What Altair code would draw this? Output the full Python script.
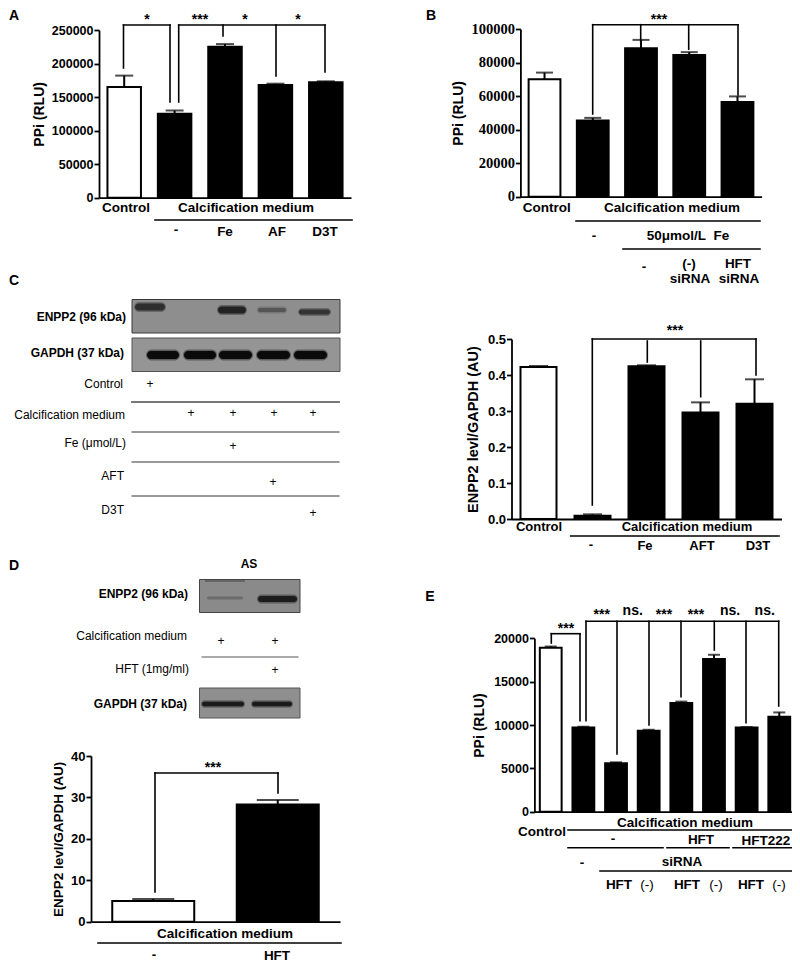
import altair as alt
import pandas as pd

SANS = "Liberation Sans"
SERIF = "Liberation Serif"

# ---- data ----
a_cats = ["Control", "Medium", "Fe", "AF", "D3T"]
a_vals = [165000, 125000, 225000, 168000, 172000]
a_errs = [17000, 5000, 4000, 2000, 1500]
a_ticks = [0, 50000, 100000, 150000, 200000, 250000]

b_cats = ["Control", "Medium", "Fe", "(-) siRNA", "HFT siRNA"]
b_vals = [70000, 45500, 88500, 84500, 56500]
b_errs = [4000, 1500, 5000, 1700, 3300]
b_ticks = [0, 20000, 40000, 60000, 80000, 100000]

c_cats = ["Control", "Medium", "Fe", "AFT", "D3T"]
c_vals = [0.422, 0.009, 0.424, 0.296, 0.320]
c_errs = [0.003, 0.004, 0.003, 0.028, 0.068]
c_ticks = [0.0, 0.1, 0.2, 0.3, 0.4, 0.5]

d_cats = ["Medium", "HFT"]
d_vals = [5.0, 28.3]
d_errs = [0.5, 1.1]
d_ticks = [0, 10, 20, 30, 40]

e_cats = ["Control", "Medium", "HFT siRNA", "(-) siRNA", "HFT+HFT siRNA",
          "HFT+(-) siRNA", "HFT222+HFT siRNA", "HFT222+(-) siRNA"]
e_vals = [18900, 9700, 5600, 9350, 12550, 17600, 9700, 10950]
e_errs = [150, 100, 100, 100, 150, 500, 60, 500]
e_ticks = [0, 5000, 10000, 15000, 20000]

M = 8  # page margin
W, H = 784, 955


def one():
    return alt.Chart(alt.Data(values=[{"k": 1}]))


def note(s, x, y, size=13.5, bold=True, align="center", angle=0, font=SANS, color="black"):
    kw = {"angle": angle} if angle else {}
    return one().mark_text(text=s, fontSize=size, fontWeight="bold" if bold else "normal",
                           align=align, baseline="middle", font=font, color=color, **kw).encode(
        x=alt.value(x - M), y=alt.value(y - M))


def line(x1, y1, x2, y2, w=1.6, color="black"):
    return one().mark_rule(strokeWidth=w, color=color, strokeCap="square").encode(
        x=alt.value(x1 - M), x2=alt.value(x2 - M), y=alt.value(y1 - M), y2=alt.value(y2 - M))


def box(x1, y1, x2, y2, fill, stroke=None, radius=0, opacity=1):
    kw = {"stroke": stroke, "strokeWidth": 1} if stroke else {}
    return one().mark_rect(fill=fill, cornerRadius=radius, opacity=opacity, **kw).encode(
        x=alt.value(x1 - M), x2=alt.value(x2 - M), y=alt.value(y1 - M), y2=alt.value(y2 - M))


def band(x1, x2, yc, h, color):
    return [box(x1, yc - h / 2 - 1.5, x2, yc + h / 2 + 1.5, color, radius=(h + 3) / 2, opacity=0.4),
            box(x1 + 1, yc - h / 2, x2 - 1, yc + h / 2, color, radius=h / 2)]


def panel(cats, vals, errs, ticks, ydom, xr, yr, bar_w, cap, title, title_x, fmt="d",
          lab_font=SANS, lab_size=12.5, title_size=14):
    x0, x1 = xr
    ybot, ytop = yr
    df = pd.DataFrame({"cat": cats, "val": vals, "err": errs})
    df["top"] = df["val"] + df["err"]
    df["kind"] = ["control" if c == "Control" or i == 0 else "treated" for i, c in enumerate(cats)]
    step = (x1 - x0) / len(cats)
    inner = 1 - (bar_w - 2) / step
    xs = alt.Scale(domain=cats, range=[x0 - M, x1 - M], paddingInner=inner, paddingOuter=inner / 2)
    ys = alt.Scale(domain=ydom, range=[ybot - M, ytop - M], nice=False, zero=True)
    xax = alt.Axis(orient="bottom", offset=-(H - (ybot - M)), labels=False, ticks=False, title=None,
                   domainColor="black", domainWidth=1.8, grid=False)
    yax = alt.Axis(orient="left", offset=-(x0 - M), values=ticks, format=fmt, title=title,
                   titleFont=SANS, titleFontSize=title_size, titleFontWeight="bold", titleColor="black",
                   titleX=title_x, labelFont=lab_font, labelFontSize=lab_size, labelFontWeight="bold",
                   labelColor="black", domainColor="black", domainWidth=1.8, tickColor="black",
                   tickWidth=1.8, tickSize=5, labelPadding=1, grid=False, labelOverlap=False)
    base = alt.Chart(df)
    bars = base.mark_bar(stroke="black", strokeWidth=2).encode(
        x=alt.X("cat:N", scale=xs, axis=xax, sort=cats),
        y=alt.Y("val:Q", scale=ys, axis=yax),
        color=alt.Color("kind:N", scale=alt.Scale(domain=["control", "treated"], range=["white", "black"]),
                        legend=None))
    errs_m = base.mark_rule(color="black", strokeWidth=2).encode(
        x=alt.X("cat:N", scale=xs, sort=cats), y=alt.Y("val:Q", scale=ys), y2="top:Q")
    caps = base.mark_tick(color="black", size=cap, thickness=2).encode(
        x=alt.X("cat:N", scale=xs, sort=cats), y=alt.Y("top:Q", scale=ys))
    return alt.layer(errs_m, caps, bars)


L = []  # annotations

# ---- Panel A ----
pa = panel(a_cats, a_vals, a_errs, a_ticks, [0, 250000], (99, 351), (197.7, 30), 35.5, 18, "PPi (RLU)", -53)
for s, x in [("*", 147), ("***", 200), ("*", 245), ("*", 298)]:
    L.append(note(s, x, 20, size=14))
L += [line(123.5, 68, 123.5, 25), line(123.5, 25, 170, 25), line(170, 25, 170, 102),
      line(178.7, 102, 178.7, 25), line(178.7, 25, 325, 25), line(325, 25, 325, 72),
      line(223, 25, 223, 36), line(276, 25, 276, 76)]
L += [note("A", 14, 16, size=14), note("Control", 126, 208), note("Calcification medium", 246, 208),
      line(155, 220, 352, 220), note("-", 176, 230), note("Fe", 225, 232), note("AF", 277, 232), note("D3T", 325, 232)]

# ---- Panel B ----
pb = panel(b_cats, b_vals, b_errs, b_ticks, [0, 100000], (520.4, 761.6), (196.7, 29), 33.8, 17, "PPi (RLU)", -55,
           lab_font=SERIF, lab_size=14.5)
L += [line(592.7, 114, 592.7, 24.7), line(592.7, 24.7, 738, 24.7), line(738, 24.7, 738, 95),
      line(640.7, 24.7, 640.7, 42.7), line(688.7, 24.7, 688.7, 49.3), note("***", 659, 20, size=14)]
L += [note("B", 431, 16, size=14), note("Control", 546.7, 208), note("Calcification medium", 672, 208),
      line(576, 221, 760, 221), note("-", 594, 236), note("50μmol/L\u00a0\u00a0Fe", 688, 236),
      line(623, 249, 760, 249), note("-", 644, 267), note("(-)", 689, 264), note("siRNA", 690, 279),
      note("HFT", 738, 264), note("siRNA", 739, 279)]

# ---- Panel C blot ----
L += [note("C", 14, 281, size=14), box(132, 299.5, 340, 333, "#8e8e8e", "#3a3a3a"), box(132, 338, 340, 371.5, "#959595", "#555555")]
L += band(134, 166, 307, 7, "#2e2e2e") + band(217, 247, 310, 7, "#222222") + band(257, 287, 310, 4, "#555555") + band(298, 331, 312, 5, "#333333")
for x1, x2 in [(146, 180), (183, 217), (218, 253), (256, 291), (293, 328)]:
    L += band(x1, x2, 355, 8, "#0a0a0a")
L += [note("ENPP2 (96 kDa)", 126, 317, size=12, align="right"), note("GAPDH (37 kDa)", 124, 353, size=12, align="right"),
      note("Control", 123, 384, size=12, bold=False, align="right"), note("+", 150, 384, size=12, bold=False),
      line(132, 402, 339, 402, w=1.8, color="#777777"),
      note("Calcification medium", 125, 415, size=12, bold=False, align="right"),
      line(132, 432, 339, 432, w=1, color="#333333"),
      note("Fe (μmol/L)", 126, 443, size=12, bold=False, align="right"),
      line(132, 462, 339, 462, w=1, color="#333333"),
      note("AFT", 124, 476, size=12, bold=False, align="right"),
      line(132, 496, 339, 496, w=1, color="#333333"),
      note("D3T", 124, 510, size=12, bold=False, align="right")]
for x, y in [(191, 413), (233, 413), (274, 413), (313, 413), (233, 446), (273, 482), (313, 513)]:
    L.append(note("+", x, y, size=12, bold=False))

# ---- Panel C chart ----
pc = panel(c_cats, c_vals, c_errs, c_ticks, [0, 0.5], (511.5, 781.5), (519, 339), 38, 19,
           "ENPP2 levl/GAPDH (AU)", -31, fmt=".1f", lab_size=13, title_size=14.5)
L += [line(592.3, 505, 592.3, 339), line(592.3, 339, 756, 339), line(756, 339, 756, 375),
      line(647.3, 341, 647.3, 362), line(700.7, 341, 700.7, 396.7), note("***", 675, 331, size=14)]
L += [note("Control", 539, 527, size=13), note("Calcification medium", 687, 527, size=13), line(570.7, 536, 779, 536),
      note("-", 591, 545, size=13), note("Fe", 645, 546, size=13), note("AFT", 702, 546, size=13), note("D3T", 758, 546, size=13)]

# ---- Panel D blots ----
L += [note("D", 14, 566, size=14), note("AS", 249, 564, size=12),
      box(199.5, 579.5, 300, 612.5, "#8a8a8a", "#444444"), box(199.5, 688, 300, 718, "#8f8f8f", "#555555")]
L += [box(205, 580, 245, 582, "#555555", opacity=0.7), box(207, 596.5, 243, 599.5, "#6c6c6c", radius=1.5)]
L += band(257, 298, 599, 6, "#1c1c1c") + band(201, 245, 704, 4.5, "#1a1a1a") + band(251, 293, 704, 4.5, "#1a1a1a")
L += [note("ENPP2 (96 kDa)", 188, 594, size=12, align="right"),
      note("Calcification medium", 187, 636, size=12, bold=False, align="right"),
      note("+", 221, 641, size=12, bold=False), note("+", 275, 641, size=12, bold=False),
      line(202, 657, 298, 657, w=1, color="#555555"),
      note("HFT (1mg/ml)", 189, 669, size=12, bold=False, align="right"), note("+", 275, 670, size=12, bold=False),
      note("GAPDH (37 kDa)", 187, 704, size=12, align="right")]

# ---- Panel D chart ----
pd_ = panel(d_cats, d_vals, d_errs, d_ticks, [0, 40], (91, 340), (921.7, 756), 84, 42,
            "ENPP2 levl/GAPDH (AU)", -26, lab_size=13, title_size=13.5)
L += [line(155, 892, 155, 773), line(155, 773, 278, 773), line(278, 773, 278, 793), note("***", 213, 768, size=14)]
L += [note("Calcification medium", 225, 934), line(98, 943, 341, 943), note("-", 154, 955), note("HFT", 277, 956)]

# ---- Panel E ----
pe = panel(e_cats, e_vals, e_errs, e_ticks, [0, 20000], (534.4, 795.6), (811.7, 638.3), 23.8, 12, "PPi (RLU)", -48)
L += [line(551.3, 643, 551.3, 633.7), line(551.3, 633.7, 580, 633.7), line(580, 633.7, 580, 720.7),
      line(586, 720.7, 586, 621.3), line(586, 621.3, 778.7, 621.3), line(778.7, 621.3, 778.7, 706)]
for x, yb in [(617, 754), (649, 725), (681, 696.7), (714.3, 650), (746, 722.7)]:
    L.append(line(x, 621.3, x, yb))
L += [note("***", 566, 629, size=14)]
for x in [601.7, 664, 696]:
    L.append(note("***", x, 615, size=14))
for x in [632.7, 730, 764.7]:
    L.append(note("ns.", x, 611, size=14))
L += [note("E", 430, 597, size=14), note("Calcification medium", 685, 823), note("Control", 542, 832),
      line(568, 830, 794, 830), note("-", 613, 839), note("HFT", 701, 840), note("HFT222", 766, 841),
      line(568, 847.7, 663, 847.7), line(667, 847.7, 729, 847.7), line(733, 847.7, 796, 847.7),
      note("-", 582, 863), note("siRNA", 682, 862), line(600, 871, 796, 871)]
for s, x in [("HFT", 619), ("(-)", 647), ("HFT", 687), ("(-)", 716), ("HFT", 751), ("(-)", 779)]:
    L.append(note(s, x, 885, bold=(s == "HFT")))

chart = alt.layer(pa, pb, pc, pd_, pe, *L).resolve_scale(x="independent", y="independent").properties(
    width=W, height=H, padding=0, autosize=alt.AutoSizeParams(type="none"), background="white"
).configure_view(stroke=None)

chart.save("out.html", embed_options={"renderer": "svg", "actions": False})
